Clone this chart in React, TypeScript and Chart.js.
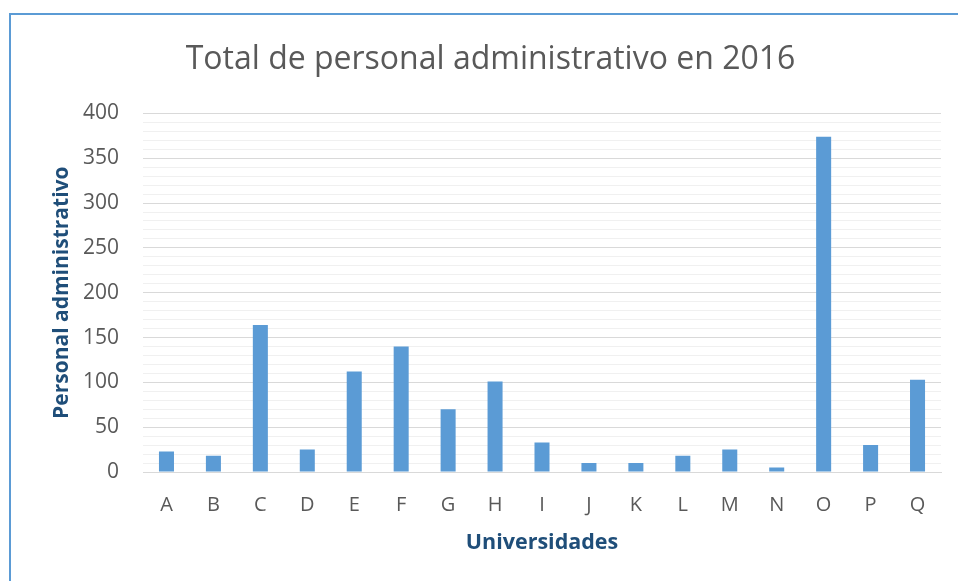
import React, { useEffect, useRef } from "react";
import { Chart, registerables } from "chart.js";

Chart.register(...registerables);

const categories = ["A", "B", "C", "D", "E", "F", "G", "H", "I", "J", "K", "L", "M", "N", "O", "P", "Q"];
const values = [23, 18, 164, 25, 112, 140, 70, 101, 33, 10, 10, 18, 25, 5, 374, 30, 103];
const yTickLabels = [0, 50, 100, 150, 200, 250, 300, 350, 400];
const chartTitle = "Total de personal administrativo en 2016";
const xTitle = "Universidades";
const yTitle = "Personal administrativo";

export default function App() {
  const ref = useRef<HTMLCanvasElement | null>(null);

  useEffect(() => {
    if (!ref.current) return;
    const chart = new Chart(ref.current, {
      type: "bar",
      data: {
        labels: categories,
        datasets: [
          {
            data: values,
            backgroundColor: "#5b9bd5",
            borderWidth: 0,
            categoryPercentage: 1,
            barPercentage: 0.32,
          },
        ],
      },
      options: {
        responsive: false,
        animation: false,
        layout: { padding: { left: 40, right: 17, top: 0, bottom: 0 } },
        plugins: {
          legend: { display: false },
          tooltip: { enabled: false },
          title: {
            display: true,
            text: chartTitle,
            color: "#595959",
            font: { family: "'Open Sans'", size: 32, weight: "normal", lineHeight: 1.2 },
            padding: { top: 41, bottom: 34 },
          },
        },
        scales: {
          x: {
            grid: { display: false },
            border: { display: true, color: "#d9d9d9", width: 1 },
            ticks: {
              color: "#595959",
              font: { family: "'Open Sans'", size: 20 },
              padding: 13,
              maxRotation: 0,
              autoSkip: false,
            },
            title: {
              display: true,
              text: xTitle,
              color: "#1f4e79",
              font: { family: "'Open Sans'", size: 21.5, weight: "bold", lineHeight: 1.2 },
              padding: { top: 0, bottom: 25 },
            },
            afterFit: (s: any) => {
              s.height = 109;
            },
          },
          y: {
            min: 0,
            max: 400,
            border: { display: false },
            grid: {
              drawTicks: false,
              color: (ctx: any) =>
                ctx.tick && yTickLabels.includes(ctx.tick.value) ? "#d9d9d9" : "#f0f0f0",
              lineWidth: 1,
            },
            ticks: {
              stepSize: 10,
              autoSkip: false,
              color: "#595959",
              font: { family: "'Open Sans'", size: 21 },
              padding: 24,
              callback: (v: any) => (yTickLabels.includes(Number(v)) ? String(v) : ""),
            },
            title: {
              display: true,
              text: yTitle,
              color: "#1f4e79",
              font: { family: "'Open Sans'", size: 21, weight: "bold", lineHeight: 1.2 },
              padding: { top: 9, bottom: 0 },
            },
            afterFit: (s: any) => {
              s.width = 103;
            },
          },
        },
      },
    });
    return () => chart.destroy();
  }, []);

  return (
    <div style={{ position: "fixed", left: 0, top: 0, width: 958, height: 581, background: "#fff", overflow: "hidden" }}>
      <canvas ref={ref} width={958} height={581} style={{ position: "absolute", left: 0, top: 0, width: 958, height: 581 }} />
      <div
        style={{
          position: "absolute",
          left: 9,
          top: 13,
          width: 960,
          height: 580,
          borderTop: "2px solid #5b9bd5",
          borderLeft: "2px solid #5b9bd5",
          pointerEvents: "none",
        }}
      />
    </div>
  );
}
